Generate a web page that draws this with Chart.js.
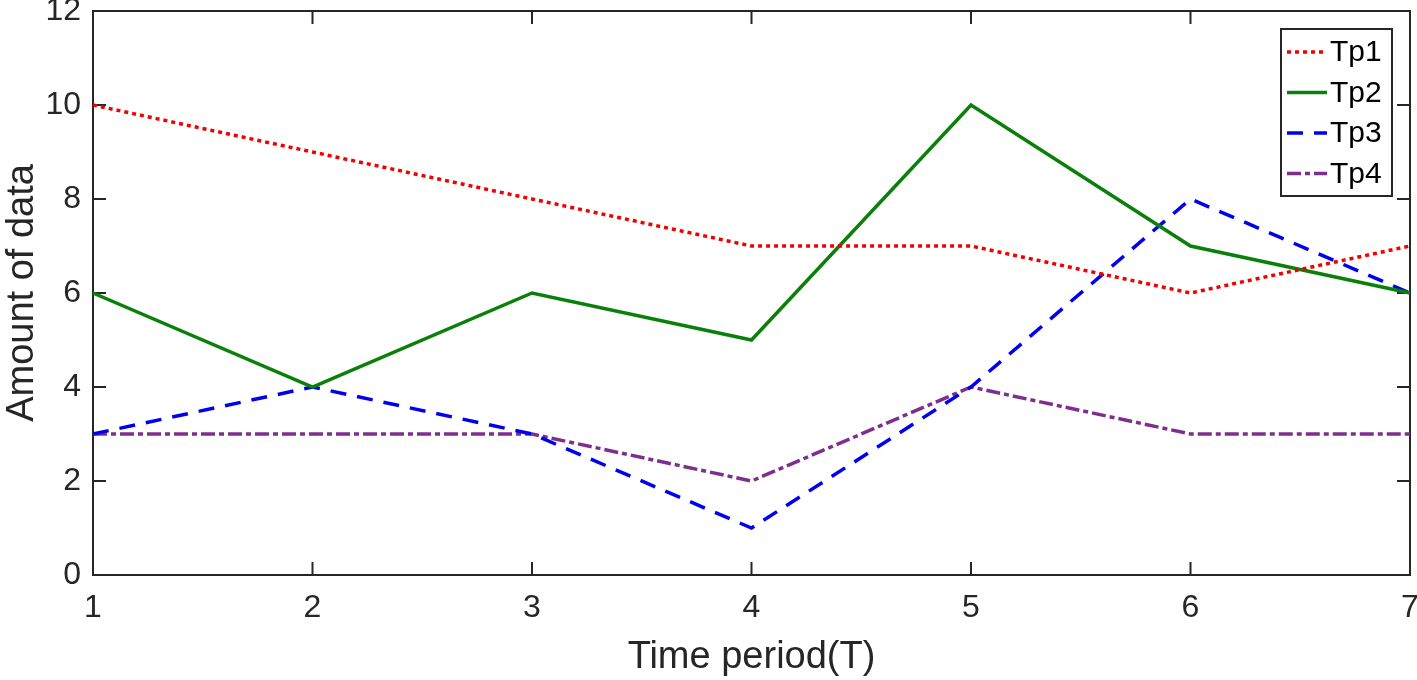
<!DOCTYPE html>
<html>
<head>
<meta charset="utf-8">
<script src="https://cdn.jsdelivr.net/npm/chart.js@4.4.1/dist/chart.umd.min.js"></script>
<style>
  html, body { margin: 0; padding: 0; background: #fff; }
  canvas { display: block; }
</style>
</head>
<body>
<canvas id="myChart" width="1417" height="680"></canvas>
<script>
// Datos
const periodos = [1, 2, 3, 4, 5, 6, 7];
const tp1 = [10, 9, 8, 7, 7, 6, 7];
const tp2 = [6, 4, 6, 5, 10, 7, 6];
const tp3 = [3, 4, 3, 1, 4, 8, 6];
const tp4 = [3, 3, 3, 2, 4, 3, 3];
const nombres = ['Tp1', 'Tp2', 'Tp3', 'Tp4'];
const yTicks = [0, 2, 4, 6, 8, 10, 12];

const ejeColor = '#262626';
const fuente = "'Liberation Sans', Arial, Helvetica, sans-serif";

const puntos = serie => serie.map((v, i) => ({ x: periodos[i], y: v }));

const datasets = [
  { label: nombres[0], data: puntos(tp1), borderColor: '#f00000', borderDash: [4, 4], borderWidth: 3.5 },
  { label: nombres[1], data: puntos(tp2), borderColor: '#0a800a', borderDash: [], borderWidth: 3.5 },
  { label: nombres[2], data: puntos(tp3), borderColor: '#0000f0', borderDash: [16, 11], borderWidth: 3.5 },
  { label: nombres[3], data: puntos(tp4), borderColor: '#7e2f8e', borderDash: [14, 4, 5, 4], borderWidth: 3.5 }
].map(d => Object.assign(d, { pointRadius: 0, tension: 0, fill: false, clip: false }));

// Marco tipo MATLAB: caja, ticks hacia dentro y leyenda con borde
const marco = {
  id: 'marco',
  beforeDatasetsDraw(chart) {
    const { ctx, chartArea: a, scales } = chart;
    const largo = 13;
    ctx.save();
    ctx.strokeStyle = ejeColor;
    ctx.lineWidth = 2;
    ctx.strokeRect(a.left, a.top, a.right - a.left, a.bottom - a.top);
    ctx.beginPath();
    periodos.forEach(p => {
      const x = scales.x.getPixelForValue(p);
      ctx.moveTo(x, a.bottom); ctx.lineTo(x, a.bottom - largo);
      ctx.moveTo(x, a.top); ctx.lineTo(x, a.top + largo);
    });
    yTicks.forEach(t => {
      const y = scales.y.getPixelForValue(t);
      ctx.moveTo(a.left, y); ctx.lineTo(a.left + largo, y);
      ctx.moveTo(a.right, y); ctx.lineTo(a.right - largo, y);
    });
    ctx.stroke();
    ctx.restore();
  },
  afterDatasetsDraw(chart) {
    const { ctx, chartArea: a } = chart;
    const ancho = 111, alto = 167;
    const x0 = a.right - 18 - ancho, y0 = a.top + 18;
    ctx.save();
    ctx.fillStyle = '#fff';
    ctx.fillRect(x0, y0, ancho, alto);
    ctx.strokeStyle = ejeColor;
    ctx.lineWidth = 2;
    ctx.strokeRect(x0, y0, ancho, alto);
    chart.data.datasets.forEach((d, i) => {
      const y = y0 + 23 + i * 40.5;
      ctx.beginPath();
      ctx.strokeStyle = d.borderColor;
      ctx.lineWidth = d.borderWidth;
      ctx.setLineDash(d.borderDash);
      ctx.moveTo(x0 + 6, y);
      ctx.lineTo(x0 + 46, y);
      ctx.stroke();
      ctx.setLineDash([]);
      ctx.fillStyle = '#000';
      ctx.font = '30px ' + fuente;
      ctx.textBaseline = 'middle';
      ctx.fillText(d.label, x0 + 49, y + 1);
    });
    ctx.restore();
  }
};

new Chart(document.getElementById('myChart'), {
  type: 'line',
  data: { datasets: datasets },
  options: {
    responsive: false,
    animation: false,
    devicePixelRatio: 1,
    layout: { padding: { top: 11, right: 7, left: 0, bottom: 0 } },
    plugins: { legend: { display: false }, tooltip: { enabled: false } },
    scales: {
      x: {
        type: 'linear',
        min: 1, max: 7,
        grid: { display: false, drawTicks: false },
        border: { display: false },
        ticks: { stepSize: 1, padding: 14, color: ejeColor, font: { family: fuente, size: 32 } },
        title: { display: true, text: 'Time period(T)', color: ejeColor, padding: 0, font: { family: fuente, size: 38 } },
        afterFit: s => { s.height = 105; s.paddingLeft = 0; s.paddingRight = 0; }
      },
      y: {
        min: 0, max: 12,
        grid: { display: false, drawTicks: false },
        border: { display: false },
        ticks: { stepSize: 2, padding: 12, color: ejeColor, font: { family: fuente, size: 32 } },
        title: { display: true, text: 'Amount of data', color: ejeColor, padding: 0, font: { family: fuente, size: 38 } },
        afterFit: s => { s.width = 93; s.paddingTop = 0; s.paddingBottom = 0; }
      }
    }
  },
  plugins: [marco]
});
</script>
</body>
</html>
